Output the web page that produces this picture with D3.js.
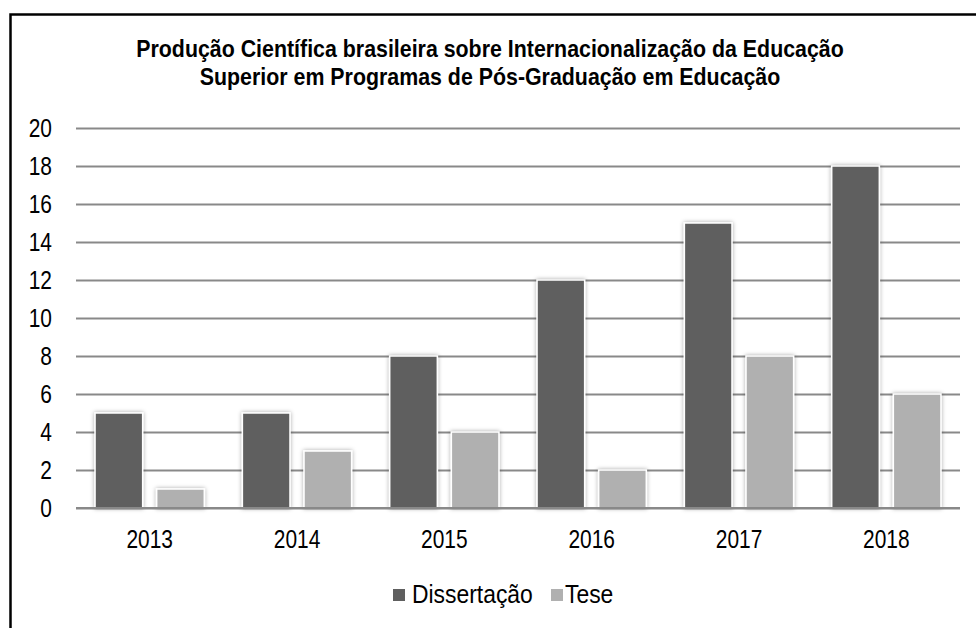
<!DOCTYPE html>
<html>
<head>
<meta charset="utf-8">
<script src="https://cdn.jsdelivr.net/npm/d3@7"></script>
<style>
  body { margin: 0; background: #fff; }
  text { font-family: "Liberation Sans", Arial, sans-serif; fill: #000; }
  .title { font-weight: bold; }
</style>
</head>
<body>
<svg id="graph"></svg>
<script>
var years = ["2013", "2014", "2015", "2016", "2017", "2018"];
var series = ["Dissertação", "Tese"];
var dissertacao = [5, 5, 8, 12, 15, 18];
var tese = [1, 3, 4, 2, 8, 6];
var yTicks = [0, 2, 4, 6, 8, 10, 12, 14, 16, 18, 20];
var colors = ["#5f5f5f", "#b0b0b0"];

var svg = d3.select("#graph")
  .attr("width", 976)
  .attr("height", 628)

var margin = {top: 128, right: 16, bottom: 120, left: 76},
    width = 976 - margin.left - margin.right,
    height = 628 - margin.top - margin.bottom;

// no narrow font installed, so squeeze the glyphs to look like Arial Narrow
function narrow(sel, f) {
  sel.each(function() {
    var len = this.getComputedTextLength()
    d3.select(this).attr("textLength", len * f).attr("lengthAdjust", "spacingAndGlyphs")
  })
}

var defs = svg.append("defs")
defs.append("filter").attr("id", "shadow")
  .attr("x", "-30%").attr("y", "-30%").attr("width", "160%").attr("height", "160%")
  .append("feDropShadow")
  .attr("dx", 0).attr("dy", 0).attr("stdDeviation", 2)
  .attr("flood-color", "#000").attr("flood-opacity", 0.35)

// frame of the figure (runs off the page on the right and bottom)
svg.append("path")
  .attr("d", "M10.5,640V14.5H990")
  .attr("fill", "none")
  .attr("stroke", "#000")
  .attr("stroke-width", 2.5)

// title
var titleLines = ["Produção Científica brasileira sobre Internacionalização da Educação",
                  "Superior em Programas de Pós-Graduação em Educação"];
svg.selectAll(".title")
  .data(titleLines)
  .enter().append("text").attr("class", "title")
  .attr("text-anchor", "middle")
  .attr("x", 490)
  .attr("y", function(d, i) { return 57 + i * 28 })
  .style("font-size", "24px")
  .text(function(d) { return d })
  .call(narrow, 0.89)

var x0 = d3.scaleBand().domain(years).range([0, width]).padding(0)
var x1 = d3.scaleBand().domain(series).range([0, x0.bandwidth()])
  .paddingInner(0.2276).paddingOuter(0.309)
var y = d3.scaleLinear().domain([0, 20]).range([height, 0])

var g = svg.append("g")
  .attr("transform", "translate(" + margin.left + "," + margin.top + ")")

// gridlines + y labels
var yAxis = g.append("g")
  .call(d3.axisLeft(y).tickValues(yTicks).tickSize(-width).tickPadding(24))
yAxis.select(".domain").remove()
yAxis.selectAll(".tick line")
  .attr("stroke", "#898989")
  .attr("stroke-width", 2)
yAxis.selectAll(".tick text")
  .attr("font-family", null)
  .style("font-size", "25.5px")
  .call(narrow, 0.82)

// x axis labels
var xAxis = g.append("g")
  .attr("transform", "translate(0," + height + ")")
  .call(d3.axisBottom(x0).tickSize(0).tickPadding(22))
xAxis.select(".domain").remove()
xAxis.selectAll(".tick text")
  .attr("font-family", null)
  .style("font-size", "25.5px")
  .call(narrow, 0.82)

var data = years.map(function(yr, i) {
  return {year: yr, values: [dissertacao[i], tese[i]]}
})

var groups = g.selectAll(".grp")
  .data(data)
  .enter().append("g")
  .attr("transform", function(d) { return "translate(" + x0(d.year) + ",0)" })

groups.selectAll("rect")
  .data(function(d) { return d.values.map(function(v, k) { return {s: series[k], v: v, k: k} }) })
  .enter().append("rect")
  .attr("x", function(d) { return x1(d.s) })
  .attr("width", x1.bandwidth())
  .attr("y", function(d) { return y(d.v) })
  .attr("height", function(d) { return height - y(d.v) })
  .attr("fill", function(d) { return colors[d.k] })
  .attr("stroke", "#fff")
  .attr("stroke-width", 1.5)
  .attr("filter", "url(#shadow)")

// base line
g.append("line")
  .attr("x1", 0).attr("x2", width)
  .attr("y1", height).attr("y2", height)
  .attr("stroke", "#898989")
  .attr("stroke-width", 2)

// legend
var legendX = [393, 551];
var legend = svg.selectAll(".legend")
  .data(series)
  .enter().append("g")
  .attr("transform", function(d, i) { return "translate(" + legendX[i] + ",589)" })
legend.append("rect")
  .attr("width", 12).attr("height", 12)
  .attr("fill", function(d, i) { return colors[i] })
legend.append("text")
  .attr("x", function(d, i) { return i == 0 ? 19 : 14 })
  .attr("y", 14)
  .style("font-size", "26px")
  .text(function(d) { return d })
  .call(narrow, 0.88)
</script>
</body>
</html>
